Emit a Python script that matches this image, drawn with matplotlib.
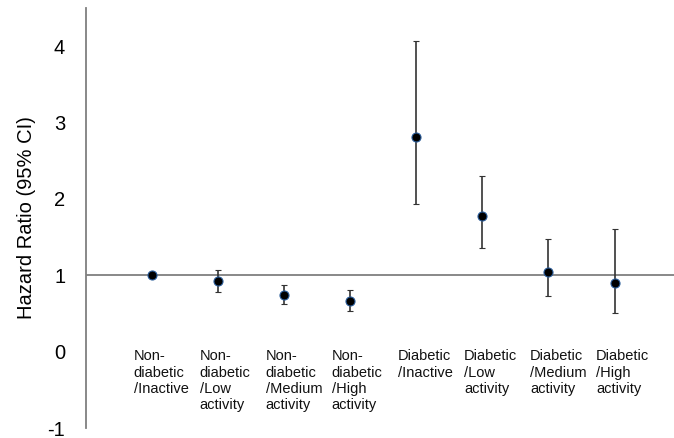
import numpy as np
import matplotlib.pyplot as plt

plt.rcParams['font.family'] = ['Liberation Sans', 'DejaVu Sans']
plt.rcParams['axes.unicode_minus'] = False

# categories and hazard ratios
labels = ['Non-\ndiabetic\n/Inactive',
          'Non-\ndiabetic\n/Low\nactivity',
          'Non-\ndiabetic\n/Medium\nactivity',
          'Non-\ndiabetic\n/High\nactivity',
          'Diabetic\n/Inactive',
          'Diabetic\n/Low\nactivity',
          'Diabetic\n/Medium\nactivity',
          'Diabetic\n/High\nactivity']
hr = np.array([1.00, 0.92, 0.74, 0.66, 2.81, 1.77, 1.04, 0.90])
ci_low = np.array([1.00, 0.78, 0.63, 0.53, 1.93, 1.36, 0.73, 0.51])
ci_high = np.array([1.00, 1.07, 0.87, 0.81, 4.07, 2.30, 1.47, 1.60])

x = np.arange(1, len(hr) + 1)

fig = plt.figure(figsize=(6.74, 4.38), dpi=100)
ax = fig.add_axes([86 / 674, 10 / 438, 1 - 86 / 674, 420 / 438])

yerr = np.vstack([hr - ci_low, ci_high - hr])
ax.errorbar(x, hr, yerr=yerr, fmt='o', color='black', ecolor='#333333',
            elinewidth=1.2, capsize=2.5, capthick=1, markersize=6.5,
            markeredgecolor='#2a5c9a', markeredgewidth=0.8, zorder=3)

ax.axhline(1, color='#7f7f7f', lw=1.3, zorder=1)

# category labels sit inside the plot below the reference line
for xi, lab in zip(x, labels):
    ax.text(xi - 0.28, 0.03, lab, ha='left', va='top', fontsize=10.5,
            linespacing=1.2, color='#111111')

ax.set_xlim(0, 8.9)
ax.set_ylim(-1, 4.5)
ax.set_yticks([-1, 0, 1, 2, 3, 4])
ax.set_xticks([])
ax.tick_params(axis='y', length=0, pad=15, labelsize=14.5)
ax.set_ylabel('Hazard Ratio (95% CI)', fontsize=14.5, labelpad=8)

for side in ['top', 'right', 'bottom']:
    ax.spines[side].set_visible(False)
ax.spines['left'].set_color('#7f7f7f')
ax.spines['left'].set_linewidth(1.3)

fig.savefig('out.png', dpi=100)
